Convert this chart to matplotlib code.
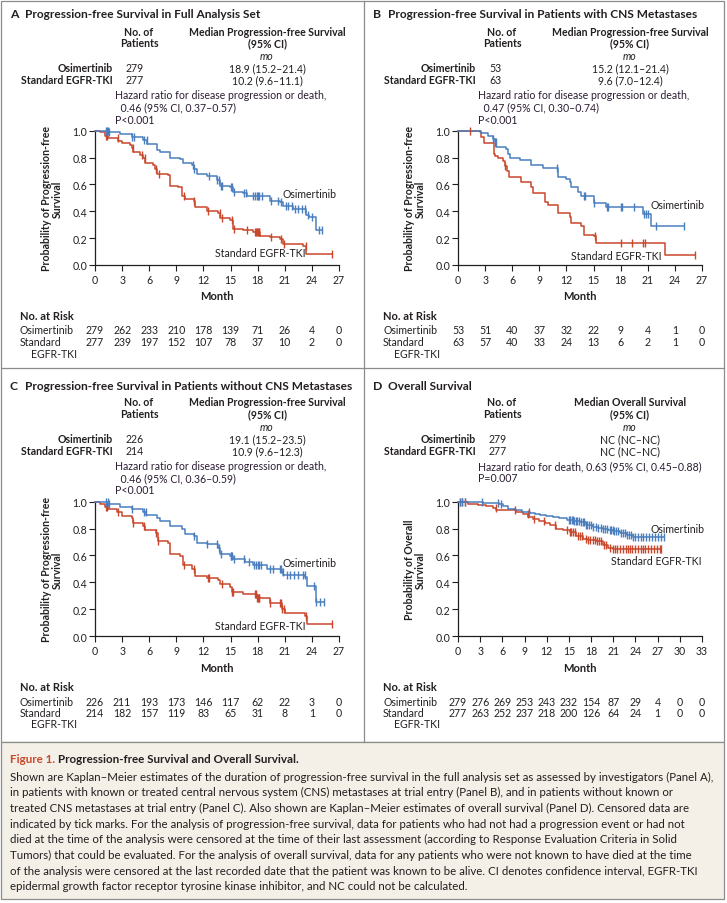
import numpy as np
import matplotlib
matplotlib.use("Agg")
import matplotlib.pyplot as plt
from matplotlib.transforms import blended_transform_factory
from matplotlib.patches import Rectangle
from matplotlib.lines import Line2D

plt.rcParams['font.family'] = ['Lato', 'DejaVu Sans']

BLUE = '#4a7ebf'
RED = '#c9472b'
INK = '#231f20'
GRID = '#8c8c8c'

W, H = 727, 904

# ---- data (months, probability) ----
# Panel A
a_osi_t = [0, 1.48, 2.77, 4.06, 5.35, 5.72, 6.83, 7.2, 8.3, 9.4, 9.78, 10.7, 10.9, 11.25,
           12.36, 13.47, 13.8, 14.9, 15.3, 16.4, 16.8, 19.4, 20.5, 20.85, 21.96, 23.4, 23.7, 24.4]
a_osi_s = [1.0, 0.99, 0.975, 0.95, 0.933, 0.90, 0.856, 0.84, 0.80, 0.79, 0.757, 0.747, 0.715, 0.677,
           0.66, 0.633, 0.59, 0.578, 0.54, 0.533, 0.516, 0.48, 0.466, 0.44, 0.42, 0.37, 0.355, 0.26]
a_osi_end = 25.1
a_osi_c = [1.2, 1.3, 1.4, 1.5, 4.1, 4.3, 5.4, 5.7, 10.8, 11.0, 12.6, 13.5, 13.7, 13.9, 14.0, 15.0,
           15.2, 15.35, 16.5, 16.7, 17.5, 17.7, 17.9, 18.0, 18.2, 18.5, 19.5, 20.3, 20.6, 21.1, 21.4,
           21.8, 22.1, 22.5, 22.9, 23.2, 23.6, 24.0, 24.8, 25.1]
a_std_t = [0, 0.55, 1.1, 1.48, 2.58, 2.95, 3.87, 4.06, 4.24, 4.98, 5.35, 5.53, 6.46, 6.64, 6.83,
           8.1, 8.3, 9.2, 9.6, 9.96, 10.9, 11.07, 12.36, 13.65, 13.84, 14.94, 15.3, 16.4, 17.5,
           18.3, 19.4, 20.5, 20.85, 23.06, 23.4]
a_std_s = [1.0, 0.987, 0.963, 0.945, 0.925, 0.908, 0.896, 0.87, 0.84, 0.82, 0.80, 0.757, 0.747,
           0.715, 0.677, 0.67, 0.59, 0.578, 0.516, 0.49, 0.48, 0.43, 0.40, 0.385, 0.35, 0.337,
           0.268, 0.26, 0.243, 0.218, 0.206, 0.193, 0.156, 0.139, 0.082]
a_std_end = 26.2
a_std_c = [1.2, 1.3, 2.5, 4.2, 5.2, 5.5, 6.8, 7.1, 9.8, 11.0, 12.5, 13.8, 14.1, 15.2, 15.4, 16.8,
           17.7, 17.8, 17.9, 18.0, 18.1, 18.2, 19.5, 20.6, 20.9, 23.3, 26.2]

# Panel B
b_osi_t = [0, 2.58, 3.32, 3.87, 4.06, 4.24, 5.28, 5.53, 5.72, 6.83, 8.1, 9.4, 11.07, 12.0,
           12.36, 12.55, 13.28, 13.65, 15.1, 16.4, 20.48, 21.4]
b_osi_s = [1.0, 0.98, 0.963, 0.94, 0.913, 0.88, 0.864, 0.826, 0.80, 0.78, 0.747, 0.72, 0.658,
           0.64, 0.615, 0.578, 0.54, 0.516, 0.46, 0.43, 0.38, 0.29]
b_osi_end = 25.0
b_osi_c = [3.9, 4.1, 4.2, 11.0, 13.9, 14.0, 15.1, 16.5, 16.6, 18.0, 18.1, 19.5, 20.6, 20.8,
           21.0, 21.9, 25.0]
b_std_t = [0, 2.4, 2.58, 2.84, 3.95, 4.06, 4.43, 4.98, 5.17, 5.42, 5.6, 7.0, 8.1, 8.3, 9.6,
           9.96, 11.07, 12.36, 12.55, 13.65, 13.9, 15.1, 15.3, 22.9]
b_std_s = [1.0, 0.987, 0.95, 0.905, 0.826, 0.81, 0.794, 0.777, 0.74, 0.70, 0.658, 0.615, 0.583,
           0.536, 0.466, 0.45, 0.385, 0.355, 0.31, 0.293, 0.223, 0.218, 0.164, 0.077]
b_std_end = 26.2
b_std_c = [1.3, 5.2, 15.2, 18.0, 19.3, 20.5, 20.7, 26.2]

# Panel C
c_osi_t = [0, 1.48, 2.77, 4.06, 5.35, 5.65, 6.83, 7.2, 8.3, 9.6, 9.96, 10.9, 11.25, 12.36,
           13.65, 13.84, 14.94, 15.3, 16.6, 17.5, 19.0, 20.66, 20.85, 23.25, 23.43, 24.46]
c_osi_s = [1.0, 0.98, 0.963, 0.945, 0.925, 0.90, 0.876, 0.854, 0.82, 0.80, 0.762, 0.744, 0.695,
           0.682, 0.653, 0.608, 0.598, 0.57, 0.55, 0.53, 0.50, 0.476, 0.454, 0.44, 0.375, 0.25]
c_osi_end = 25.3
c_osi_c = [1.2, 1.4, 1.5, 4.1, 5.4, 5.6, 10.9, 12.4, 13.5, 13.7, 13.9, 15.0, 15.1, 15.2, 15.4,
           16.5, 17.0, 17.6, 17.8, 18.0, 18.2, 18.4, 19.4, 19.7, 20.5, 20.6, 20.8, 21.2, 21.6,
           22.0, 22.5, 23.0, 23.2, 24.2, 24.5, 24.9, 25.3]
c_std_t = [0, 0.55, 1.1, 1.48, 2.4, 2.95, 4.06, 4.17, 5.35, 5.53, 6.75, 7.0, 8.1, 8.3, 9.4, 9.7,
           10.7, 11.07, 12.36, 13.65, 13.84, 14.94, 15.13, 16.4, 17.9, 19.4, 20.66, 21.03, 23.25, 23.43]
c_std_s = [1.0, 0.985, 0.963, 0.945, 0.92, 0.896, 0.88, 0.84, 0.82, 0.79, 0.77, 0.707, 0.695,
           0.608, 0.598, 0.53, 0.50, 0.444, 0.43, 0.417, 0.39, 0.367, 0.325, 0.31, 0.28, 0.245,
           0.203, 0.17, 0.152, 0.09]
c_std_end = 26.2
c_std_c = [1.2, 1.3, 2.5, 4.2, 5.4, 6.8, 7.0, 9.8, 11.0, 12.5, 12.6, 14.0, 15.2, 15.3, 17.7,
           17.8, 17.9, 18.0, 18.1, 18.2, 19.4, 20.5, 20.6, 20.7, 20.9, 23.3, 26.2]

# Panel D
d_osi_t = [0, 2.0, 3.4, 5.6, 6.1, 6.8, 7.7, 8.6, 9.7, 10.4, 11.1, 11.9, 12.9, 13.7, 14.7, 15.6,
           16.5, 17.3, 18.3, 18.9, 19.6, 20.3, 21.0, 21.9, 22.8, 23.7]
d_osi_s = [1.0, 0.995, 0.99, 0.985, 0.97, 0.945, 0.935, 0.925, 0.918, 0.91, 0.903, 0.895, 0.886,
           0.875, 0.864, 0.855, 0.846, 0.83, 0.814, 0.805, 0.80, 0.79, 0.78, 0.767, 0.75, 0.74]
d_osi_end = 27.9
d_osi_c = [0.3, 0.5, 0.9, 3.3, 5.4, 5.8, 9.6, 15.0, 15.2, 15.4, 15.5, 15.7, 15.9, 16.1, 16.3,
           16.6, 16.9, 17.1, 17.3, 17.5, 17.7, 18.0, 18.3, 18.6, 19.0, 19.3, 19.6, 19.9, 20.2,
           20.5, 20.7, 20.9, 21.1, 21.4, 21.7, 22.0, 22.3, 22.6, 22.9, 23.1, 23.4, 23.7, 24.0,
           24.3, 24.7, 25.0, 25.4, 25.8, 26.2, 26.6, 27.0, 27.5, 27.9]
d_std_t = [0, 0.7, 1.35, 2.7, 3.8, 4.7, 5.2, 7.9, 8.8, 9.5, 10.1, 10.9, 11.7, 12.5, 13.3, 14.2,
           15.1, 16.0, 16.9, 17.6, 18.7, 19.6, 20.3, 20.9]
d_std_s = [1.0, 0.995, 0.985, 0.975, 0.965, 0.95, 0.938, 0.92, 0.906, 0.888, 0.868, 0.856, 0.844,
           0.825, 0.80, 0.788, 0.774, 0.744, 0.725, 0.715, 0.707, 0.68, 0.657, 0.645]
d_std_end = 27.5
d_std_c = [0.3, 0.5, 1.0, 5.1, 7.7, 9.4, 10.3, 11.6, 13.1, 14.8, 15.1, 15.3, 15.5, 15.8, 16.2,
           16.5, 16.8, 17.3, 17.6, 17.9, 18.2, 18.5, 18.8, 19.1, 19.4, 19.7, 20.0, 20.6, 20.9,
           21.2, 21.5, 21.9, 22.3, 22.7, 23.0, 23.3, 23.6, 24.0, 24.3, 24.7, 25.0, 25.3, 25.7,
           26.1, 26.5, 26.9, 27.3, 27.5]

# risk tables
a_risk_osi = [279, 262, 233, 210, 178, 139, 71, 26, 4, 0]
a_risk_std = [277, 239, 197, 152, 107, 78, 37, 10, 2, 0]
b_risk_osi = [53, 51, 40, 37, 32, 22, 9, 4, 1, 0]
b_risk_std = [63, 57, 40, 33, 24, 13, 6, 2, 1, 0]
c_risk_osi = [226, 211, 193, 173, 146, 117, 62, 22, 3, 0]
c_risk_std = [214, 182, 157, 119, 83, 65, 31, 8, 1, 0]
d_risk_osi = [279, 276, 269, 253, 243, 232, 154, 87, 29, 4, 0, 0]
d_risk_std = [277, 263, 252, 237, 218, 200, 126, 64, 24, 1, 0, 0]

panels = [
    dict(letter='A', title='Progression-free Survival in Full Analysis Set',
         median_head=['Median Progression-free Survival', '(95% CI)'],
         n=['279', '277'], med=['18.9 (15.2\u201321.4)', '10.2 (9.6\u201311.1)'],
         hr=['Hazard ratio for disease progression or death,', '  0.46 (95% CI, 0.37\u20130.57)'],
         p='P<0.001', ylab='Probability of Progression-free\nSurvival', xmax=27,
         osi=(a_osi_t, a_osi_s, a_osi_end, a_osi_c), std=(a_std_t, a_std_s, a_std_end, a_std_c),
         risk=(a_risk_osi, a_risk_std), lab_osi=(20.7, 0.535), lab_std=(13.3, 0.09)),
    dict(letter='B', title='Progression-free Survival in Patients with CNS Metastases',
         median_head=['Median Progression-free Survival', '(95% CI)'],
         n=['53', '63'], med=['15.2 (12.1\u201321.4)', '9.6 (7.0\u201312.4)'],
         hr=['Hazard ratio for disease progression or death,', '  0.47 (95% CI, 0.30\u20130.74)'],
         p='P<0.001', ylab='Probability of Progression-free\nSurvival', xmax=27,
         osi=(b_osi_t, b_osi_s, b_osi_end, b_osi_c), std=(b_std_t, b_std_s, b_std_end, b_std_c),
         risk=(b_risk_osi, b_risk_std), lab_osi=(21.3, 0.45), lab_std=(12.5, 0.07)),
    dict(letter='C', title='Progression-free Survival in Patients without CNS Metastases',
         median_head=['Median Progression-free Survival', '(95% CI)'],
         n=['226', '214'], med=['19.1 (15.2\u201323.5)', '10.9 (9.6\u201312.3)'],
         hr=['Hazard ratio for disease progression or death,', '  0.46 (95% CI, 0.36\u20130.59)'],
         p='P<0.001', ylab='Probability of Progression-free\nSurvival', xmax=27,
         osi=(c_osi_t, c_osi_s, c_osi_end, c_osi_c), std=(c_std_t, c_std_s, c_std_end, c_std_c),
         risk=(c_risk_osi, c_risk_std), lab_osi=(20.7, 0.55), lab_std=(13.3, 0.08)),
    dict(letter='D', title='Overall Survival',
         median_head=['Median Overall Survival', '(95% CI)'],
         n=['279', '277'], med=['NC (NC\u2013NC)', 'NC (NC\u2013NC)'],
         hr=['Hazard ratio for death, 0.63 (95% CI, 0.45\u20130.88)'],
         p='P=0.007', ylab='Probability of Overall\nSurvival', xmax=33,
         osi=(d_osi_t, d_osi_s, d_osi_end, d_osi_c), std=(d_std_t, d_std_s, d_std_end, d_std_c),
         risk=(d_risk_osi, d_risk_std), lab_osi=(26.0, 0.80), lab_std=(20.7, 0.56)),
]
offsets = [(0, 0), (363, 0), (0, 371), (363, 371)]

fig = plt.figure(figsize=(W / 100, H / 100), dpi=100)
FS = 7.6


def T(x, y, s, **kw):
    kw.setdefault('fontsize', FS)
    kw.setdefault('color', INK)
    kw.setdefault('va', 'center')
    return fig.text(x / W, 1 - y / H, s, **kw)


def km(ax, t, s, end, cens, color):
    tt = list(t) + [end]
    ss = list(s) + [s[-1]]
    ax.step(tt, ss, where='post', color=color, lw=1.1, clip_on=False, zorder=3)
    idx = np.searchsorted(np.array(t), np.array(cens), side='right') - 1
    ax.plot(cens, np.array(s)[idx], ls='none', marker='|', ms=5.5, mew=1.0,
            color=color, clip_on=False, zorder=4)


for p, (dx, dy) in zip(panels, offsets):
    # header block
    T(dx + 10, dy + 15, p['letter'], fontsize=8.8, fontweight='bold')
    T(dx + 25, dy + 15, p['title'], fontsize=8.6, fontweight='bold')
    T(dx + 139, dy + 32, 'No. of', ha='center', fontweight='bold')
    T(dx + 139, dy + 43.5, 'Patients', ha='center', fontweight='bold')
    T(dx + 267, dy + 32, p['median_head'][0], ha='center', fontweight='bold')
    T(dx + 267, dy + 43.5, p['median_head'][1], ha='center', fontweight='bold')
    T(dx + 267, dy + 57, 'mo', ha='center', style='italic')
    T(dx + 113, dy + 69, 'Osimertinib', ha='right', fontweight='bold')
    T(dx + 113, dy + 81, 'Standard EGFR-TKI', ha='right', fontweight='bold')
    for k, yy in enumerate([69, 81]):
        T(dx + 126, dy + yy, p['n'][k], ha='left')
        T(dx + 267, dy + yy, p['med'][k], ha='center')
    for k, line in enumerate(p['hr']):
        T(dx + 115, dy + 96 + 12 * k, line, ha='left', color='#2b1d33')
    T(dx + 115, dy + 96 + 12 * len(p['hr']), p['p'], ha='left', color='#2b1d33')

    # axes
    top, h = 131.7 + dy, 134.3
    ax = fig.add_axes([(95 + dx) / W, 1 - (top + h) / H, 244 / W, h / H])
    ax.set_xlim(0, p['xmax'])
    ax.set_ylim(0, 1)
    ax.set_xticks(np.arange(0, p['xmax'] + 1, 3))
    ax.set_yticks(np.arange(0, 1.01, 0.2))
    ax.set_yticklabels(['%.1f' % v for v in np.arange(0, 1.01, 0.2)])
    for side in ['top', 'right']:
        ax.spines[side].set_visible(False)
    for side in ['left', 'bottom']:
        ax.spines[side].set_linewidth(0.9)
        ax.spines[side].set_color(INK)
    ax.tick_params(direction='out', length=4, width=0.8, labelsize=FS, colors=INK)
    ax.tick_params(axis='y', pad=1.5)
    ax.tick_params(axis='x', pad=2.5)
    ax.patch.set_visible(False)

    km(ax, *p['std'], RED)
    km(ax, *p['osi'], BLUE)
    ax.text(p['lab_osi'][0], p['lab_osi'][1], 'Osimertinib', fontsize=FS, color=INK,
            ha='left', va='center')
    ax.text(p['lab_std'][0], p['lab_std'][1], 'Standard EGFR-TKI', fontsize=FS, color=INK,
            ha='left', va='center')

    T(dx + 52, top + h / 2, p['ylab'], rotation=90, ha='center', fontweight='bold',
      linespacing=1.05)
    T(dx + 95 + 122, dy + 297, 'Month', ha='center', fontweight='bold', fontsize=8.0)

    # risk table
    T(dx + 20, dy + 317, 'No. at Risk', fontweight='bold', fontsize=8.0)
    T(dx + 20, dy + 331, 'Osimertinib')
    T(dx + 20, dy + 342.5, 'Standard')
    T(dx + 31, dy + 354, 'EGFR-TKI')
    tr = blended_transform_factory(ax.transData, fig.transFigure)
    ticks = np.arange(0, p['xmax'] + 1, 3)
    for row, yy in zip(p['risk'], [331, 342.5]):
        for tk, v in zip(ticks, row):
            ax.text(tk, 1 - (dy + yy) / H, str(v), transform=tr, ha='center', va='center',
                    fontsize=FS, color=INK, clip_on=False)

# frame and dividers
fig.add_artist(Line2D([364 / W, 364 / W], [1 - 2 / H, 1 - 743 / H], color=GRID, lw=0.9))
fig.add_artist(Line2D([2 / W, 724 / W], [1 - 369 / H, 1 - 369 / H], color=GRID, lw=0.9))
fig.add_artist(Rectangle((1.5 / W, 1 - 743 / H), 722.5 / W, 741 / H, fill=False,
                         edgecolor=GRID, lw=0.9))

# caption box
fig.add_artist(Rectangle((1.5 / W, 1 - 900 / H), 722.5 / W, 157 / H, facecolor='#f4f0e7',
                         edgecolor=GRID, lw=0.9))
fig1 = T(10, 760, 'Figure 1.', fontsize=8.4, fontweight='bold', color=RED)
fig.canvas.draw()
bb = fig1.get_window_extent()
T(bb.x1 + 3, 760, 'Progression-free Survival and Overall Survival.', fontsize=8.4,
  fontweight='bold')

caption = [
    "Shown are Kaplan\u2013Meier estimates of the duration of progression-free survival in the full analysis set as assessed by investigators (Panel A),",
    "in patients with known or treated central nervous system (CNS) metastases at trial entry (Panel B), and in patients without known or",
    "treated CNS metastases at trial entry (Panel C). Also shown are Kaplan\u2013Meier estimates of overall survival (Panel D). Censored data are",
    "indicated by tick marks. For the analysis of progression-free survival, data for patients who had not had a progression event or had not",
    "died at the time of the analysis were censored at the time of their last assessment (according to Response Evaluation Criteria in Solid",
    "Tumors) that could be evaluated. For the analysis of overall survival, data for any patients who were not known to have died at the time",
    "of the analysis were censored at the last recorded date that the patient was known to be alive. CI denotes confidence interval, EGFR-TKI",
    "epidermal growth factor receptor tyrosine kinase inhibitor, and NC could not be calculated.",
]
for k, line in enumerate(caption):
    T(10, 777 + 15.7 * k, line, fontsize=8.3)

fig.savefig('out.png', dpi=100)
